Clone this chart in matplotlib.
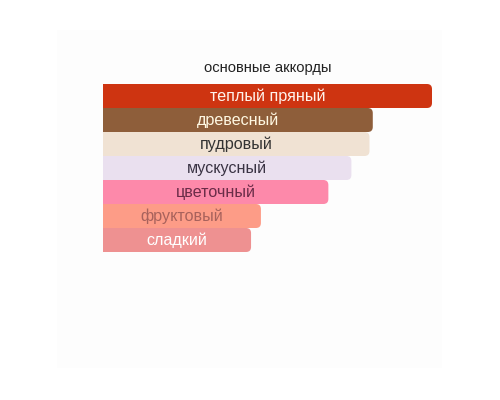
import matplotlib.pyplot as plt
from matplotlib.patches import FancyBboxPatch, Rectangle

# Аккорды (сверху вниз) и ширина полос в % от максимальной
accords = ['теплый пряный', 'древесный', 'пудровый', 'мускусный',
           'цветочный', 'фруктовый', 'сладкий']
values = [100, 82, 81, 75.5, 68.5, 48, 45]
bar_colors = ['#CE3411', '#8E5E3A', '#F0E2D3', '#EAE0EF',
              '#FD89AA', '#FD9C87', '#EE9191']
text_colors = ['#FFF3EC', '#FFF8E2', '#333333', '#3A3344',
               '#6A2C48', '#A8625C', '#FFFFFF']

W, H = 500, 400
fig = plt.figure(figsize=(5, 4), dpi=100)
fig.patch.set_facecolor('white')

# едва заметная серая подложка
fig.patches.append(Rectangle((57 / W, 1 - 368 / H), (442 - 57) / W, (368 - 30) / H,
                             transform=fig.transFigure, facecolor='#FDFDFD',
                             edgecolor='none', zorder=-5))

ax = fig.add_axes([103 / W, 1 - 252 / H, (432 - 103) / W, (252 - 84) / H])
ax.set_zorder(2)
ax.set_xlim(0, 100)
ax.set_ylim(len(accords) - 0.5, -0.5)
ax.axis('off')
ax.patch.set_alpha(0)

r_px = 5
px_x = 100 / (432 - 103)        # единиц по x на пиксель
px_y = len(accords) / (252 - 84)  # единиц по y на пиксель
r = r_px * px_x
aspect = px_y / px_x

for i, (name, v, c, tc) in enumerate(zip(accords, values, bar_colors, text_colors)):
    box = FancyBboxPatch((0, i - 0.5), v, 1,
                         boxstyle='round,pad=0,rounding_size=%f' % r,
                         mutation_aspect=aspect, facecolor=c, edgecolor='none', zorder=2)
    ax.add_patch(box)
    ax.barh(i, v / 2, height=1, left=0, color=c, edgecolor='none', zorder=2)
    ax.text(v / 2, i, name, ha='center', va='center', color=tc,
            fontsize=11.6, family='Liberation Sans', zorder=3)

fig.text(268 / W, 1 - 68 / H, 'основные аккорды', ha='center', va='center',
         fontsize=10.6, family='Liberation Sans', color='#222222')

plt.savefig('out.png', dpi=100)
